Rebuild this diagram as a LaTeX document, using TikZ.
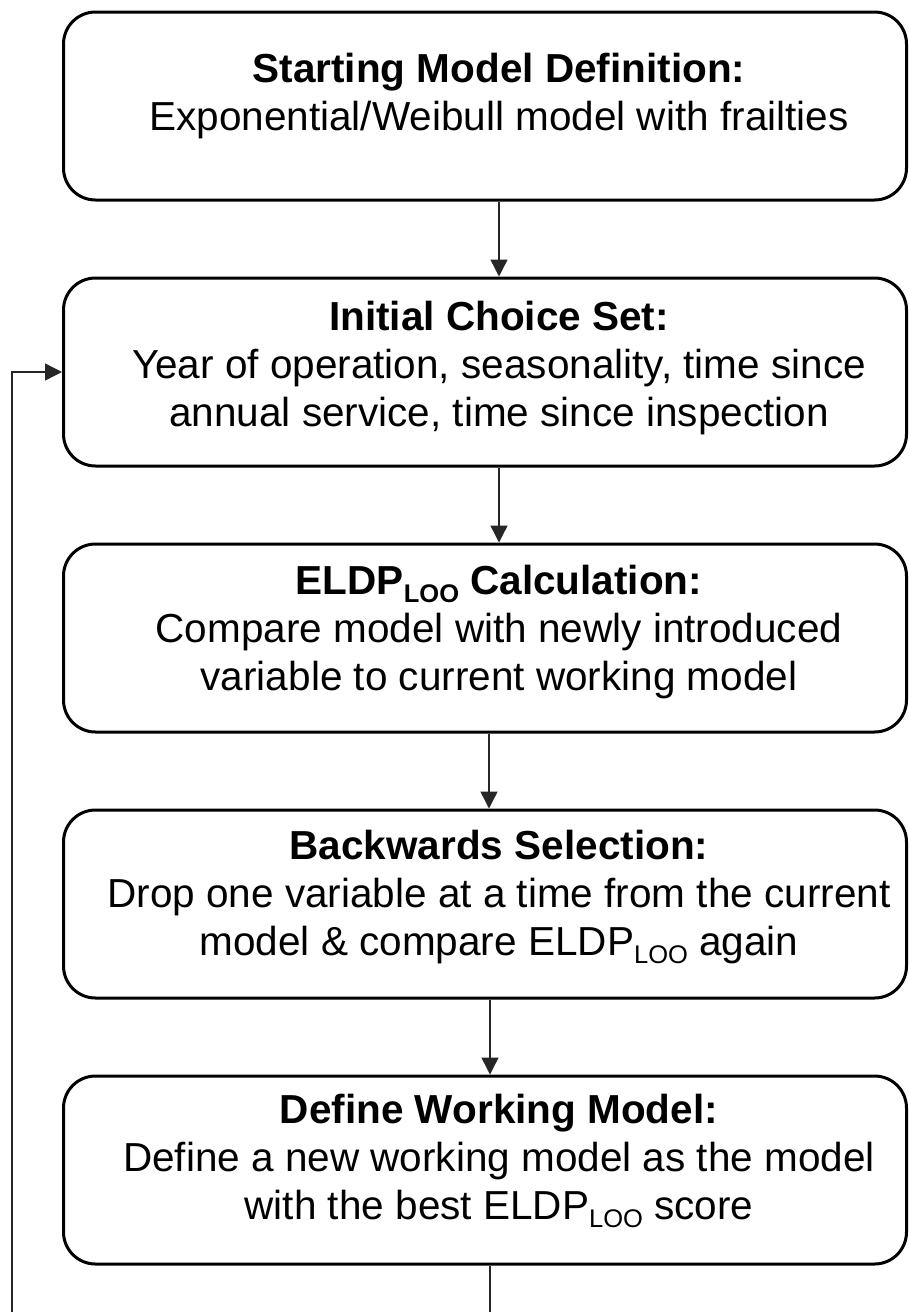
\documentclass[tikz,border=0pt]{standalone}
\usepackage{fontspec}
\setmainfont{Liberation Sans}
\usetikzlibrary{arrows.meta}
\newcommand{\loosub}{\raisebox{-8pt}{\fontsize{25.5}{25.5}\selectfont LOO}}
\begin{document}
\begin{tikzpicture}[x=1pt,y=-1pt,
  box/.style={draw, line width=3pt, rounded corners=32pt, minimum width=843pt, minimum height=188pt, inner sep=0pt},
  txt/.style={align=center, font=\fontsize{40.5}{48}\selectfont, inner sep=0pt},
  conn/.style={draw=black!85, line width=1.4pt, -{Triangle[length=17pt,width=17pt]}}]
\useasboundingbox (0,0) rectangle (908,1312);
\node[box] (b1) at (485,106) {};
\node[box] (b2) at (485,372) {};
\node[box] (b3) at (485,638) {};
\node[box] (b4) at (485,904) {};
\node[box] (b5) at (485,1170) {};
\node[txt] (t1) at (499,96) {\textbf{Starting Model Definition:}\\Exponential/Weibull model with frailties};
\node[txt] (t2) at (499,368) {\textbf{Initial Choice Set:}\\Year of operation, seasonality, time since\\annual service, time since inspection};
\node[txt] (t3) at (499,632) {\textbf{ELDP\loosub\ Calculation:}\\Compare model with newly introduced\\variable to current working model};
\node[txt] (t4) at (499,897) {\textbf{Backwards Selection:}\\Drop one variable at a time from the current\\model \& compare ELDP\loosub\ again};
\node[txt] (t5) at (499,1161) {\textbf{Define Working Model:}\\Define a new working model as the model\\with the best ELDP\loosub\ score};
\coordinate (loopL) at (12,1345);
\draw[conn] ([xshift=14pt]b1.south) -- ([xshift=14pt]b2.north);
\draw[conn] ([xshift=14pt]b2.south) -- ([xshift=14pt]b3.north);
\draw[conn] ([xshift=4pt]b3.south) -- ([xshift=4pt]b4.north);
\draw[conn] ([xshift=5pt]b4.south) -- ([xshift=5pt]b5.north);
\draw[conn] ([xshift=5pt]b5.south) |- (loopL) |- (b2.west);
\end{tikzpicture}
\end{document}
